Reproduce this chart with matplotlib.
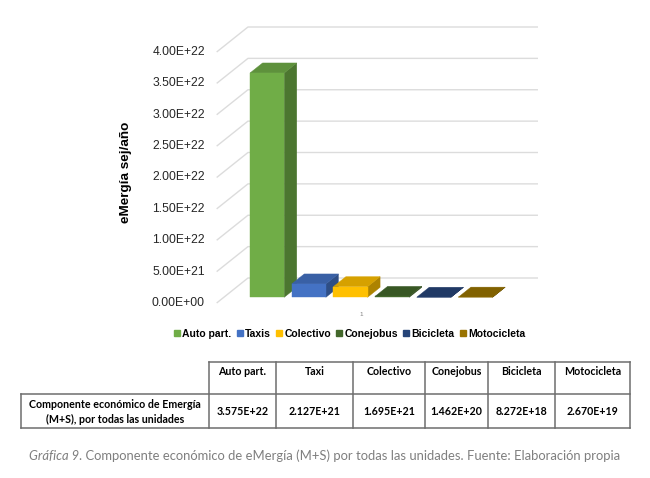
import matplotlib
matplotlib.use("Agg")
import matplotlib.pyplot as plt
from matplotlib.patches import Polygon
from matplotlib.lines import Line2D
from matplotlib.colors import to_rgb

# ---- data -------------------------------------------------------------
categories = ["Auto part.", "Taxis", "Colectivo", "Conejobus", "Bicicleta", "Motocicleta"]
table_headers = ["Auto part.", "Taxi", "Colectivo", "Conejobus", "Bicicleta", "Motocicleta"]
values = [3.575e22, 2.127e21, 1.695e21, 1.462e20, 8.272e18, 2.670e19]
colors = ["#70AD47", "#4472C4", "#FFC000", "#43682B", "#264478", "#997300"]
y_ticks = [0.0, 5e21, 1e22, 1.5e22, 2e22, 2.5e22, 3e22, 3.5e22, 4e22]
y_tick_labels = ["0.00E+00", "5.00E+21", "1.00E+22", "1.50E+22", "2.00E+22",
                 "2.50E+22", "3.00E+22", "3.50E+22", "4.00E+22"]
category_label = "1"
y_title = "eMergía sej/año"
row_label = ["Componente económico de Emergía", "(M+S), por todas las unidades"]
caption_italic = "Gráfica 9"
caption_rest = ". Componente económico de eMergía (M+S) por todas las unidades. Fuente: Elaboración propia"

W, H = 650, 478
fig = plt.figure(figsize=(W / 100, H / 100), dpi=100)
fig.patch.set_facecolor("white")

# ---- pseudo-3D column chart --------------------------------------------
PX_CAT = 41.67            # pixels per category step
PX_VAL = 62.75 / 1e22     # pixels per unit value
X0_PX, Y0_PX = 260.0, 303.0   # pixel of category 0 / value 0 on the front plane
DEPTH_X, DEPTH_Y = 31.3, 25.0  # pixel shift from front plane to back wall

ax_l, ax_r, ax_t, ax_b = 150, 545, 15, 320
ax = fig.add_axes([ax_l / W, (H - ax_b) / H, (ax_r - ax_l) / W, (ax_b - ax_t) / H])
ax.set_xlim((ax_l - X0_PX) / PX_CAT, (ax_r - X0_PX) / PX_CAT)
ax.set_ylim((Y0_PX - ax_b) / PX_VAL, (Y0_PX - ax_t) / PX_VAL)
ax.axis("off")

KX = DEPTH_X / PX_CAT
KY = DEPTH_Y / PX_VAL


def proj(x, v, z):
    return (x + z * KX, v + z * KY)


# wall gridlines: diagonal on the side wall, then along the back wall
x_left = -1.04
x_right = 5.92
for t in y_ticks:
    p0 = proj(x_left, t, 0)
    p1 = proj(x_left, t, 1)
    p2 = proj(x_right, t, 1)
    ax.plot([p0[0], p1[0], p2[0]], [p0[1], p1[1], p2[1]],
            color="#dcdcdc", lw=1.0, zorder=1, solid_capstyle="butt")

for t, lab in zip(y_ticks, y_tick_labels):
    ax.text(-1.32, t, lab, ha="right", va="center", fontsize=8.7,
            family="Liberation Sans", color="#262626")


def shade(c, f):
    r, g, b = to_rgb(c)
    return (r * f, g * f, b * f)


bar_w = 0.82
z_front, z_back = 0.228, 0.628
for i, (v, c) in enumerate(zip(values, colors)):
    x0, x1 = i - bar_w / 2, i + bar_w / 2
    front = [proj(x0, 0, z_front), proj(x1, 0, z_front), proj(x1, v, z_front), proj(x0, v, z_front)]
    top = [proj(x0, v, z_front), proj(x1, v, z_front), proj(x1, v, z_back), proj(x0, v, z_back)]
    side = [proj(x1, 0, z_front), proj(x1, 0, z_back), proj(x1, v, z_back), proj(x1, v, z_front)]
    zo = 3 + i
    ax.add_patch(Polygon(side, closed=True, fc=shade(c, 0.68), ec=shade(c, 0.68), lw=0.3, zorder=zo))
    ax.add_patch(Polygon(top, closed=True, fc=shade(c, 0.84), ec=shade(c, 0.84), lw=0.3, zorder=zo))
    ax.add_patch(Polygon(front, closed=True, fc=c, ec=c, lw=0.3, zorder=zo))

ax.text((len(values) - 1) / 2 - 0.08, (Y0_PX - 315) / PX_VAL, category_label,
        ha="center", va="center", fontsize=4.5, color="#7f7f7f", family="Liberation Sans")

fig.text(125.5 / W, 1 - 172 / H, y_title, rotation=90, ha="center", va="center",
         fontsize=9.7, fontweight="bold", family="Liberation Sans", color="#000000")

handles = [Line2D([], [], ls="none", marker="s", markersize=4.2, mfc=c, mec=c) for c in colors]
fig.legend(handles, categories, loc="center", bbox_to_anchor=(350 / W, 1 - 334 / H), ncol=6,
           frameon=False, handlelength=0.5, handletextpad=0.25, columnspacing=0.55,
           borderpad=0, prop={"family": "Liberation Sans", "weight": "bold", "size": 7.5})

# ---- data table ----------------------------------------------------------
tax = fig.add_axes([0, 0, 1, 1])
tax.set_xlim(0, W)
tax.set_ylim(H, 0)
tax.axis("off")
tax.patch.set_alpha(0)

col_edges = [21, 209, 275.7, 353.3, 425, 488.3, 555, 630]
row_edges = [361.7, 394.3, 427.7]
line_kw = dict(color="#6e6e6e", lw=1.1, solid_capstyle="projecting")
tax.plot([col_edges[1], col_edges[-1]], [row_edges[0]] * 2, **line_kw)
tax.plot([col_edges[0], col_edges[-1]], [row_edges[1]] * 2, **line_kw)
tax.plot([col_edges[0], col_edges[-1]], [row_edges[2]] * 2, **line_kw)
tax.plot([col_edges[0]] * 2, [row_edges[1], row_edges[2]], **line_kw)
for xe in col_edges[1:]:
    tax.plot([xe] * 2, [row_edges[0], row_edges[2]], **line_kw)

tfont = dict(family="Lato", fontweight="bold", fontsize=7.7, color="#000000")
for j, (hdr, v) in enumerate(zip(table_headers, values)):
    cx = (col_edges[j + 1] + col_edges[j + 2]) / 2
    tax.text(cx, 371.7, hdr, ha="center", va="center", **tfont)
    tax.text(cx, 411.5, "%.3E" % v, ha="center", va="center", **tfont)
cx0 = (col_edges[0] + col_edges[1]) / 2
tax.text(cx0, 404.5, row_label[0], ha="center", va="center", **tfont)
tax.text(cx0, 419.5, row_label[1], ha="center", va="center", **tfont)

# ---- caption (italic lead-in followed by regular text) -----------------------
cap_kw = dict(family="Lato", fontsize=9.4, color="#7f7f7f", va="center")
t1 = fig.text(29.3 / W, 1 - 456 / H, caption_italic, style="italic", ha="left", **cap_kw)
renderer = fig.canvas.get_renderer()
bb = t1.get_window_extent(renderer)
fig.text(bb.x1 / W, 1 - 456 / H, caption_rest, ha="left", **cap_kw)

fig.savefig("out.png", dpi=100, facecolor="white")
